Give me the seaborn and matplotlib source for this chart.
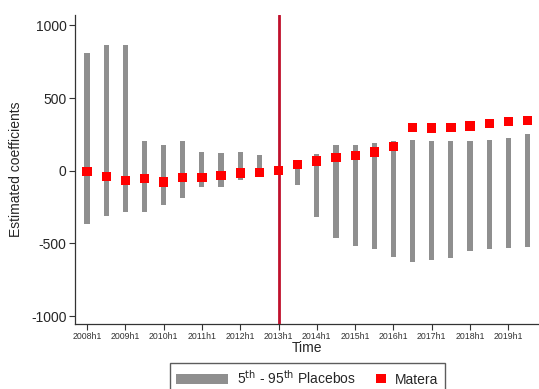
import numpy as np
import pandas as pd
import seaborn as sns
import matplotlib.pyplot as plt
from matplotlib.patches import Patch, Rectangle
from matplotlib.legend_handler import HandlerPatch

# Half-year periods 2008h1 .. 2019h2
periods = [f"{y}h{h}" for y in range(2008, 2020) for h in (1, 2)]

# Matera estimated coefficients (red squares)
matera = [-5, -39, -67, -55, -78, -48, -46, -34, -16, -12,
          0, 44, 67, 92, 106, 129, 166, 299, 294, 297,
          308, 326, 336, 347]

# 5th - 95th percentile of placebos
placebo_hi = [812, 862, 862, 205, 174, 205, 126, 122, 129, 106,
              np.nan, 40, 117, 174, 179, 191, 202, 214, 202, 202,
              205, 211, 228, 250]
placebo_lo = [-366, -310, -283, -283, -239, -189, -113, -113, -67, -40,
              np.nan, -99, -320, -464, -515, -538, -591, -625, -614, -598,
              -550, -540, -529, -522]

df = pd.DataFrame({"period": periods, "matera": matera,
                   "hi": placebo_hi, "lo": placebo_lo})
df["x"] = np.arange(len(df))

sns.set_style("ticks")
plt.rcParams["font.family"] = ["Liberation Sans", "DejaVu Sans"]

fig = plt.figure(figsize=(5.39, 3.89), dpi=100)
ax = fig.add_axes([0.139, 0.167, 0.861, 0.794])

bar_col = "#8f8f8f"
ax.bar(df["x"], df["hi"] - df["lo"], bottom=df["lo"], width=0.27,
       color=bar_col, linewidth=0, zorder=2)

# treatment line at 2013h1
ax.axvline(periods.index("2013h1"), color="#c0102c", lw=2, zorder=3)

sns.scatterplot(data=df, x="x", y="matera", marker="s", s=44, color="#ff0000",
                edgecolor="none", ax=ax, zorder=4, legend=False)

ax.set_xlim(-0.63, 23.6)
ax.set_ylim(-1055, 1070)
ax.set_yticks([-1000, -500, 0, 500, 1000])
ax.set_yticklabels(["-1000", "-500", "0", "500", "1000"], fontsize=10)
ax.set_xticks(df["x"][::2])
ax.set_xticklabels(df["period"][::2], fontsize=6.3, color="#333333")
ax.tick_params(axis="both", length=4, width=0.8, color="#333333", pad=2)
ax.set_xlabel("Time", fontsize=10, labelpad=0)
ax.set_ylabel("Estimated coefficients", fontsize=10, labelpad=6)
for side in ["top", "right"]:
    ax.spines[side].set_visible(False)
for side in ["left", "bottom"]:
    ax.spines[side].set_color("#333333")
    ax.spines[side].set_linewidth(0.9)


# small square drawn at the right end of the handle box
def small_square(legend, orig_handle, xdescent, ydescent, width, height, fontsize):
    size = 6.5
    return Rectangle((width - xdescent - size, -ydescent + (height - size) / 2),
                     size, size)


handles = [Patch(facecolor=bar_col, edgecolor="none"),
           Patch(facecolor="#ff0000", edgecolor="none")]
labels = [r"5$^{\mathrm{th}}$ - 95$^{\mathrm{th}}$ Placebos", "Matera"]
fig.legend(handles, labels, loc="upper center", ncol=2,
           bbox_to_anchor=(0.5705, 0.068), borderaxespad=0, fontsize=10,
           frameon=True, fancybox=False, edgecolor="#333333",
           handlelength=3.7, handleheight=0.75, columnspacing=-1.6,
           borderpad=0.45, handletextpad=0.7,
           handler_map={handles[1]: HandlerPatch(patch_func=small_square)})

fig.savefig("out.png", dpi=100)
